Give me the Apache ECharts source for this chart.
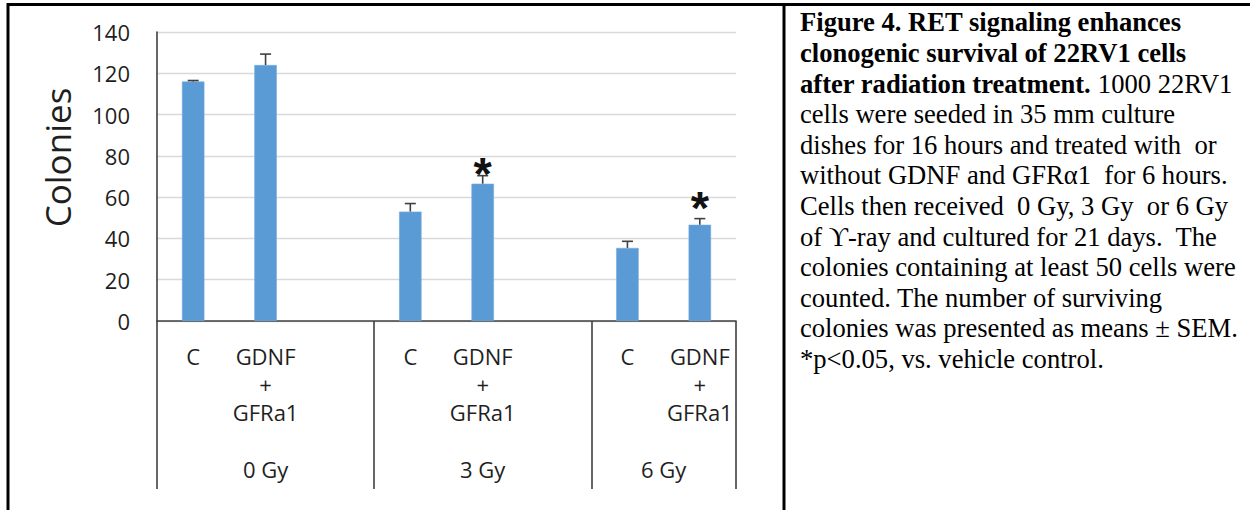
<!DOCTYPE html>
<html>
<head>
<meta charset="utf-8">
<script src="https://cdn.jsdelivr.net/npm/echarts@6/dist/echarts.min.js"></script>
<style>
  html, body { margin: 0; padding: 0; background: #ffffff; }
  #chart { width: 1250px; height: 510px; }
</style>
</head>
<body>
<div id="chart"></div>
<script>
// ---- data ----
const categories = ['C', 'GDNF\n+\nGFRa1', '', 'C', 'GDNF\n+\nGFRa1', '', 'C', 'GDNF\n+\nGFRa1'];
const colonies = [116, 124, null, 53, 66.5, null, 35.4, 46.6];
const sem = [0.5, 5.3, null, 3.9, 3.9, null, 3.2, 3.0];
const significance = ['', '', '', '', '*', '', '', '*'];
const starHeights = [null, null, null, null, 74.6, null, null, 57.7];
const groupLabels = ['0 Gy', '3 Gy', '6 Gy'];
const groupBoundaries = [0, 3, 6, 8];
const groupCenters = [1.5, 4.5, 7];
const yMin = 0, yMax = 140, yStep = 20;
const yAxisTitle = 'Colonies';
const captionLines = [
  '{b|Figure 4. RET signaling enhances}',
  '{b|clonogenic survival of 22RV1 cells}',
  '{b|after radiation treatment.} 1000 22RV1',
  'cells were seeded in 35 mm culture',
  'dishes for 16 hours and treated with  or',
  'without GDNF and GFRα1  for 6 hours.',
  'Cells then received  0 Gy, 3 Gy  or 6 Gy',
  'of ϒ-ray and cultured for 21 days.  The',
  'colonies containing at least 50 cells were',
  'counted. The number of surviving',
  'colonies was presented as means ± SEM.',
  '*p<0.05, vs. vehicle control.'
];

const axisFont = '"Open Sans", "DejaVu Sans", sans-serif';
const serifFont = '"Liberation Serif", "Times New Roman", serif';
const textColor = '#1f1f1f';
const axisDark = '#404040';

const chart = echarts.init(document.getElementById('chart'), null, { renderer: 'svg' });

const option = {
  animation: false,
  backgroundColor: '#ffffff',
  grid: { left: 157, right: 514, top: 32, bottom: 189, containLabel: false },
  xAxis: [
    {
      type: 'category',
      data: categories,
      boundaryGap: true,
      axisLine: { show: true, lineStyle: { color: axisDark, width: 1.6 } },
      axisTick: { show: false },
      axisLabel: {
        interval: 0,
        margin: 21,
        fontFamily: axisFont,
        fontSize: 22,
        lineHeight: 28,
        color: textColor
      },
      splitLine: { show: false }
    },
    {
      type: 'value',
      position: 'bottom',
      min: 0,
      max: 8,
      axisLine: { show: false },
      splitLine: { show: false },
      axisTick: {
        show: true,
        customValues: groupBoundaries,
        length: 168,
        lineStyle: { color: axisDark, width: 1.6 }
      },
      axisLabel: {
        show: true,
        customValues: groupCenters,
        margin: 137,
        fontFamily: axisFont,
        fontSize: 22,
        color: textColor,
        formatter: function (v) {
          const i = groupCenters.indexOf(v);
          return i >= 0 ? groupLabels[i] : '';
        }
      }
    }
  ],
  yAxis: {
    type: 'value',
    min: yMin,
    max: yMax,
    interval: yStep,
    name: yAxisTitle,
    nameLocation: 'middle',
    nameGap: 82,
    nameTextStyle: {
      fontFamily: axisFont,
      fontSize: 35,
      color: textColor,
      padding: [0, 0, 0, 38]
    },
    axisLine: { show: true, lineStyle: { color: axisDark, width: 1.6 } },
    axisTick: { show: false },
    axisLabel: {
      margin: 27,
      fontFamily: axisFont,
      fontSize: 22,
      color: textColor
    },
    splitLine: { show: true, lineStyle: { color: '#d9d9d9', width: 1.3 } }
  },
  series: [
    {
      type: 'bar',
      data: colonies,
      barWidth: '31%',
      itemStyle: { color: '#5b9bd5', borderColor: '#6fa8dc', borderWidth: 0.6 },
      z: 2
    },
    {
      type: 'custom',
      data: colonies.map(function (v, i) { return [i, v, sem[i]]; }),
      renderItem: function (params, api) {
        const v = api.value(1);
        const e = api.value(2);
        if (v == null || isNaN(v) || e == null || isNaN(e)) return null;
        const base = api.coord([api.value(0), v]);
        const top = api.coord([api.value(0), v + e]);
        const half = 5.5;
        const style = { stroke: '#404040', lineWidth: 1.6 };
        return {
          type: 'group',
          children: [
            { type: 'line', shape: { x1: base[0], y1: base[1], x2: top[0], y2: top[1] }, style: style },
            { type: 'line', shape: { x1: top[0] - half, y1: top[1], x2: top[0] + half, y2: top[1] }, style: style }
          ]
        };
      },
      z: 3
    },
    {
      type: 'custom',
      data: starHeights.map(function (v, i) { return [i, v == null ? NaN : v]; }),
      renderItem: function (params, api) {
        const v = api.value(1);
        if (v == null || isNaN(v)) return null;
        const p = api.coord([api.value(0), v]);
        return {
          type: 'text',
          x: p[0],
          y: p[1] + 6,
          style: {
            text: significance[params.dataIndex],
            fontFamily: '"Liberation Sans", Arial, sans-serif',
            fontWeight: 'bold',
            fontSize: 47,
            fill: '#111111',
            align: 'center',
            verticalAlign: 'middle'
          }
        };
      },
      z: 4
    }
  ],
  graphic: [
    { type: 'line', shape: { x1: 7, y1: 4.5, x2: 1250, y2: 4.5 }, style: { stroke: '#000', lineWidth: 3 } },
    { type: 'line', shape: { x1: 8, y1: 3, x2: 8, y2: 510 }, style: { stroke: '#000', lineWidth: 3 } },
    { type: 'line', shape: { x1: 784, y1: 3, x2: 784, y2: 510 }, style: { stroke: '#000', lineWidth: 3 } },
    {
      type: 'text',
      left: 800,
      top: 7,
      style: {
        text: captionLines.join('\n'),
        fontFamily: serifFont,
        fontSize: 26.6,
        lineHeight: 30.6,
        fill: '#000000',
        rich: {
          b: {
            fontFamily: serifFont,
            fontWeight: 'bold',
            fontSize: 26.6,
            lineHeight: 30.6,
            fill: '#000000'
          }
        }
      }
    }
  ]
};

chart.setOption(option);
</script>
</body>
</html>
